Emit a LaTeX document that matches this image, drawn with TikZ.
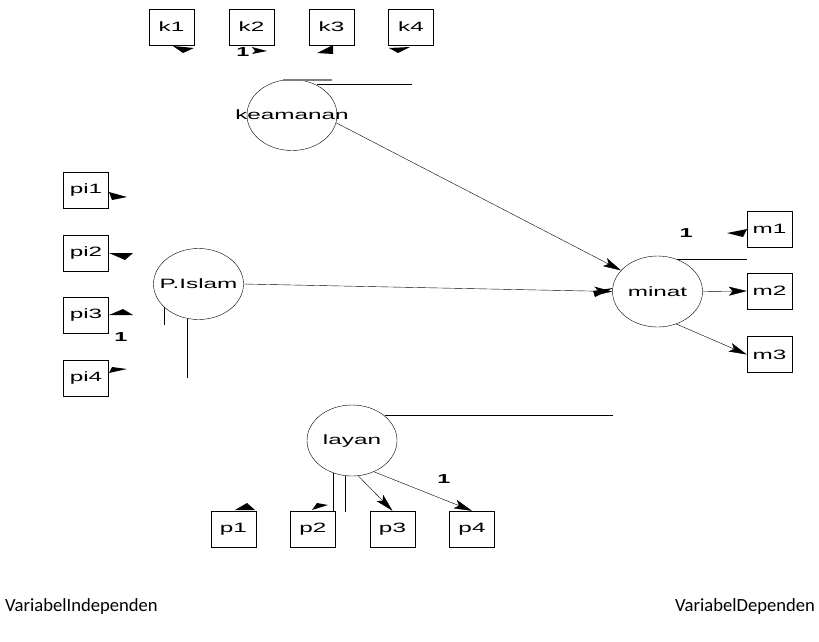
\documentclass[tikz,border=0pt]{standalone}
\usepackage{fontspec}
\setmainfont{Liberation Sans}
\newfontfamily\amosfont{Liberation Sans}[FakeStretch=1.8]
\newfontfamily\calfont{Carlito}
\usetikzlibrary{arrows.meta,shapes.geometric}
\definecolor{amosink}{HTML}{000000}
\definecolor{amosgray}{HTML}{7F7F7F}
\newcommand{\lv}[1]{\makebox[0pt]{#1}}
\tikzset{
  obs/.style={draw=amosink, minimum width=45pt, minimum height=36pt, inner sep=0pt, font=\amosfont\fontsize{13.5}{15}\selectfont},
  lat/.style={draw=amosink, ellipse, minimum width=90pt, minimum height=71pt, inner sep=0pt, font=\amosfont\fontsize{13.5}{15}\selectfont},
  arr/.style={-{Stealth[length=18pt, width=9pt, inset=4pt]}, color=amosink},
  ln/.style={draw=amosink},
  hd/.style={fill=amosink},
  one/.style={font=\amosfont\bfseries\fontsize{13}{15}\selectfont, inner sep=0pt},
  sidetxt/.style={font=\calfont\fontsize{18.6}{22}\selectfont, inner sep=0pt, anchor=base west},
}

\begin{document}
\begin{tikzpicture}[x=1pt, y=-1pt]
    \useasboundingbox (0,0) rectangle (819,641);
    % indicators
    \foreach \n/\x in {1/171.5, 2/251.5, 3/331.5, 4/411}
      \node[obs] (k\n) at (\x,27) {k\n};
    \foreach \n/\y in {1/190.5, 2/253, 3/315.5, 4/378}
      \node[obs] (pi\n) at (86,\y) {pi\n};
    \foreach \n/\y in {1/229, 2/291, 3/354.5}
      \node[obs] (m\n) at (769.5,\y) {m\n};
    \foreach \n/\x in {1/233.5, 2/313, 3/392.5, 4/472}
      \node[obs] (p\n) at (\x,529) {p\n};
    % latent variables
    \node[lat] (keamanan) at (292,115) {\lv{keamanan}};
    \node[lat] (islam) at (198.5,284) {\lv{P.Islam}};
    \node[lat] (minat) at (657.5,291.5) {\lv{minat}};
    \node[lat] (layan) at (352,440.5) {\lv{layan}};

    % loose ends
    \coordinate (kgA) at (283,80);  \coordinate (kgB) at (332,80);
    \coordinate (klA) at (317,84);  \coordinate (klB) at (412,84);
    \coordinate (mlA) at (677,259); \coordinate (mlB) at (747,259);
    \coordinate (llA) at (385,415); \coordinate (llB) at (613,415);
    \coordinate (ivA) at (164,307); \coordinate (ivB) at (164,325);
    \coordinate (iwA) at (187,319); \coordinate (iwB) at (187,378);
    \coordinate (lvA) at (333,473); \coordinate (lwA) at (345,476);
    \coordinate (lwB) at (345,512);

    % paths
    \draw[arr] (keamanan.-10) -- (minat.150);
    \draw[arr] (islam.east) -- (minat.west);
    \draw[arr] (minat.east) -- (m2.west);
    \draw[arr] (minat.-60) -- (m3.west);
    \draw[arr] (layan.-80) -- (p3.north);
    \draw[arr] (layan.-55) -- (p4.north);

    \draw[amosgray, line width=1.2pt] (kgA) -- (kgB);
    \draw[ln] (klA) -- (klB);
    \draw[ln] (mlA) -- (mlB);
    \draw[ln] (llA) -- (llB);
    \draw[ln] (ivA) -- (ivB);
    \draw[ln] (iwA) -- (iwB);
    \draw[ln] (lvA) -- (lvA |- p2.north);
    \draw[ln] (lwA) -- (lwB);

    % stray heads
    \fill[hd] (173,46) -- (194,48) -- (183,53) -- cycle;
    \fill[hd] (252,47) -- (267,51) -- (252,54) -- (255,51) -- cycle;
    \fill[hd] (317,53) -- (333,45) -- (333,54) -- cycle;
    \fill[hd] (389,48) -- (410,47) -- (398,53) -- cycle;
    \fill[hd] (109,192) -- (127,197) -- (112,200) -- cycle;
    \fill[hd] (109,253) -- (133,253) -- (125,260) -- cycle;
    \fill[hd] (109,315) -- (123,309) -- (133,315) -- cycle;
    \fill[hd] (109,373) -- (127,369) -- (112,367) -- cycle;
    \fill[hd] (727,233) -- (747,229) -- (743,237) -- cycle;
    \fill[hd] (235,510) -- (247,503) -- (255,510) -- cycle;
    \fill[hd] (312,510) -- (317,503) -- (328,505) -- cycle;
    \fill[hd] (593,291) -- (613,288) -- (595,297) -- cycle;

    % weights
    \node[one] (wk) at (243,52) {1};
    \node[one] (wi) at (121,337) {1};
    \node[one] (wm) at (686,233) {1};
    \node[one] (wl) at (444,479) {1};

    \node[sidetxt] (ind) at (5,611) {VariabelIndependen};
    \node[sidetxt] (dep) at (675,611) {VariabelDependen};
  \end{tikzpicture}
\end{document}
